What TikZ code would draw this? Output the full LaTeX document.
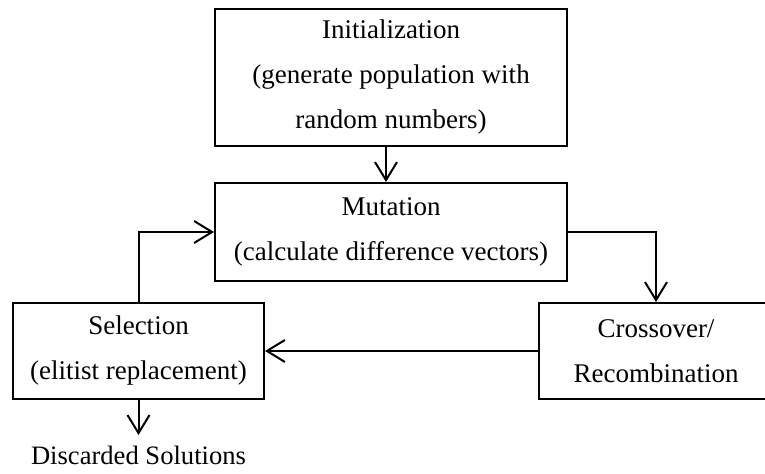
\documentclass[tikz,border=0pt]{standalone}
\usepackage{fontspec}
\setmainfont{Liberation Serif}
\usepackage{tikz}
\usetikzlibrary{arrows.meta, positioning}

\begin{document}
\begin{tikzpicture}[x=0.5pt, y=-0.5pt,
    stagebox/.style={draw, line width=1pt, align=center, inner sep=0pt,
        font=\fontsize{13.5}{22.5}\selectfont},
    flow/.style={line width=1pt, -{Straight Barb[length=9pt, width=11pt, line width=1pt]}}]
    \useasboundingbox (0,0) rectangle (765,474);

    % Stages of the algorithm
    \node[stagebox, minimum width=176pt, minimum height=68.5pt] (init) at (391, 77.5)
        {Initialization\\(generate population with\\random numbers)};
    \node[stagebox, minimum width=176pt, minimum height=49pt] (mut) at (391, 232)
        {Mutation\\(calculate difference vectors)};
    \node[stagebox, minimum width=125.5pt, minimum height=48pt] (sel) at (138.5, 351)
        {Selection\\(elitist replacement)};
    \node[stagebox, minimum width=117pt, minimum height=48pt] (cross) at (656, 351)
        {Crossover/\\Recombination};

    % Output of the selection
    \node[anchor=north, inner sep=5.5pt, font=\fontsize{13.3}{16}\selectfont] (disc) at (138.5, 435)
        {Discarded Solutions};

    % Connectors
    \draw[flow] ([xshift=-2.5pt]init.south) -- ([xshift=-2.5pt]mut.north);
    \draw[flow] (mut.east) -| (cross.north);
    \draw[flow] (cross.west) -- (sel.east);
    \draw[flow] (sel.north) |- (mut.west);
    \draw[flow] (sel.south) -- (disc.north);
\end{tikzpicture}
\end{document}
